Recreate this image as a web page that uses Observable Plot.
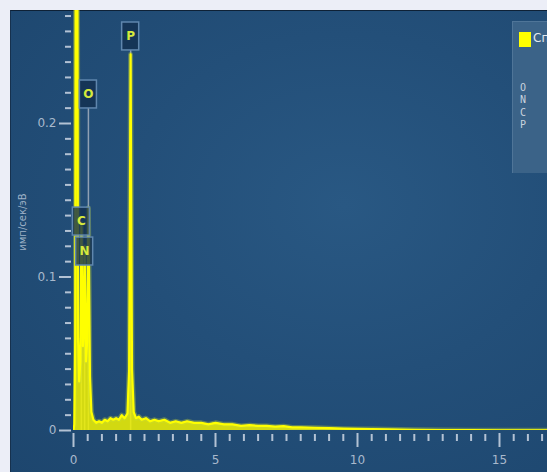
<!DOCTYPE html>
<html><head><meta charset="utf-8">
<script src="https://cdn.jsdelivr.net/npm/d3@7"></script>
<script src="https://cdn.jsdelivr.net/npm/@observablehq/plot@0.6"></script>
<style>
html,body{margin:0;padding:0;width:547px;height:472px;overflow:hidden;background:#eceef7;font-family:"DejaVu Sans",sans-serif}
#wrap{position:relative;width:547px;height:472px;overflow:hidden}
#panel{position:absolute;left:10px;top:10px;width:537px;height:462px;
  background:radial-gradient(ellipse at 62% 42%, #295883 0%, #234f79 45%, #1d466e 100%);
  border-top:1px solid #0e2136;border-left:1px solid #16314e}
#chart{position:absolute;left:0;top:0}
#ylabel{position:absolute;left:22px;top:222px;transform:translate(-50%,-50%) rotate(-90deg);
  color:#9fb2c7;font-size:10px;white-space:nowrap;font-family:"DejaVu Sans",sans-serif}
#legend{position:absolute;left:512px;top:21px;width:60px;height:151px;background:#3b6388;
  border-left:1px solid #4f7598;border-top:1px solid #4f7598;overflow:hidden}
#legend .sw{position:absolute;left:6px;top:10px;width:12px;height:15px;background:#ffff00}
#legend .nm{position:absolute;left:20px;top:9px;color:#e2e8ef;font-size:12px;white-space:nowrap}
#legend .el{position:absolute;left:7px;color:#c9d2de;font-size:10px;font-family:"DejaVu Sans Mono",monospace}
</style></head>
<body>
<div id="wrap">
  <div id="panel"></div>
  <div id="chart"></div>
  <div id="ylabel"></div>
  <div id="legend"></div>
</div>
<script>
// ---- data ----
const spectrumName = "Спектр 1";
const yAxisLabel = "имп/сек/эВ";
const legendElements = ["O", "N", "C", "P"];
const xMajorTicks = [0, 5, 10, 15];
const yMajorTicks = [0, 0.1, 0.2];

// EDS spectrum: energy (keV) and intensity (cps/eV)
const energy = [0.00,0.03,0.06,0.08,0.13,0.16,0.20,0.24,0.28,0.33,0.36,0.39,0.44,0.48,0.525,0.58,0.63,0.70,0.80,0.90,
  1.00,1.10,1.20,1.30,1.40,1.50,1.60,1.70,1.80,1.90,1.96,2.01,2.06,2.12,2.20,2.30,2.40,2.55,2.70,2.85,
  3.00,3.20,3.40,3.60,3.80,4.00,4.25,4.50,4.75,5.00,5.30,5.60,5.90,6.20,6.50,6.80,7.10,7.40,7.70,8.00,
  8.50,9.00,9.50,10.0,10.5,11.0,11.5,12.0,13.0,14.0,15.0,16.7];
const counts = [0.000,0.004,0.060,0.400,0.400,0.060,0.032,0.045,0.135,0.055,0.062,0.120,0.045,0.058,0.145,0.035,0.012,0.007,0.005,0.006,
  0.005,0.007,0.006,0.008,0.007,0.008,0.007,0.010,0.008,0.011,0.040,0.245,0.040,0.012,0.008,0.009,0.007,0.008,0.006,0.007,
  0.006,0.007,0.005,0.006,0.005,0.006,0.005,0.005,0.004,0.005,0.004,0.004,0.003,0.0035,0.003,0.003,0.0025,0.0028,0.002,0.002,
  0.0018,0.0015,0.0012,0.0010,0.0009,0.0008,0.0006,0.0005,0.0003,0.0002,0.0001,0.0001];

// peak markers: element, line energy (keV), level of label box bottom (cps/eV)
const peakElements = ["C", "N", "O", "P"];
const peakEnergies = [0.277, 0.392, 0.525, 2.013];
const peakLabelLevels = [0.127, 0.1075, 0.2098, 0.2476];

// ---- build ----
const spectrum = energy.map((e, i) => ({e, c: counts[i]}));
const labels = peakElements.map((el, i) => ({el, e: peakEnergies[i], lo: peakLabelLevels[i]}));

const pxPerKeV = 28.4, x0 = 73;
const xMax = (547 - x0) / pxPerKeV;
const yMax = (430 - 10) / 1535;

const yMinor = d3.range(1, 28).map(i => i / 100).filter(v => Math.abs(v - 0.1) > 1e-9 && Math.abs(v - 0.2) > 1e-9);
const xMinor = d3.range(1, 34).map(i => i / 2).filter(v => v % 5 !== 0);

const tickColor = "#b3c2d4";
const chart = Plot.plot({
  width: 547, height: 472,
  marginLeft: x0, marginRight: 0, marginTop: 10, marginBottom: 42,
  x: {domain: [0, xMax], axis: null, label: null},
  y: {domain: [0, yMax], axis: null, label: null},
  style: {background: "transparent", overflow: "visible", fontFamily: "DejaVu Sans, sans-serif"},
  marks: [
    Plot.axisY(yMinor, {tickSize: 6, dx: -2, tickFormat: () => "", label: null, stroke: tickColor, strokeWidth: 2}),
    Plot.axisY(yMajorTicks, {tickSize: 12, dx: -2, tickPadding: 3, label: null, tickFormat: d => d === 0 ? "0" : d.toFixed(1),
      stroke: tickColor, fill: "#a9b9cc", strokeWidth: 2, fontSize: 12}),
    Plot.axisX(xMinor, {tickSize: 7, dy: 4, tickFormat: () => "", label: null, stroke: tickColor, strokeWidth: 2}),
    Plot.axisX(xMajorTicks, {tickSize: 14, dy: 3, tickPadding: 8, label: null, tickFormat: d => String(d),
      stroke: tickColor, fill: "#a9b9cc", strokeWidth: 2, fontSize: 12}),
    Plot.ruleX(labels, {x: "e", y1: 0, y2: "lo", stroke: "#8fa0b3", strokeWidth: 1.5}),
    Plot.areaY(spectrum, {x: "e", y: "c", fill: "#f2f200", fillOpacity: 0.85, clip: true}),
    Plot.line(spectrum, {x: "e", y: "c", stroke: "#c8dc3a", strokeWidth: 5, strokeOpacity: 0.35, clip: true}),
    Plot.line(spectrum, {x: "e", y: "c", stroke: "#ffff00", strokeWidth: 2.2, clip: true}),
    Plot.rect(labels, {x1: d => d.e - 0.3, x2: d => d.e + 0.3, y1: "lo", y2: d => d.lo + 0.0182,
      fill: "#132f50", fillOpacity: 0.8, stroke: "#5f86ad", strokeWidth: 1.5}),
    Plot.text(labels, {x: "e", y: d => d.lo + 0.0091, text: "el", fill: "#d6ea3c", fontSize: 12, fontWeight: "bold"})
  ]
});
document.getElementById("chart").appendChild(chart);
document.getElementById("ylabel").textContent = yAxisLabel;

const lg = document.getElementById("legend");
lg.innerHTML = `<div class="sw"></div><div class="nm">${spectrumName}</div>` +
  legendElements.map((el, i) => `<div class="el" style="top:${60 + i * 12.3}px">${el}</div>`).join("");
</script>
</body></html>
